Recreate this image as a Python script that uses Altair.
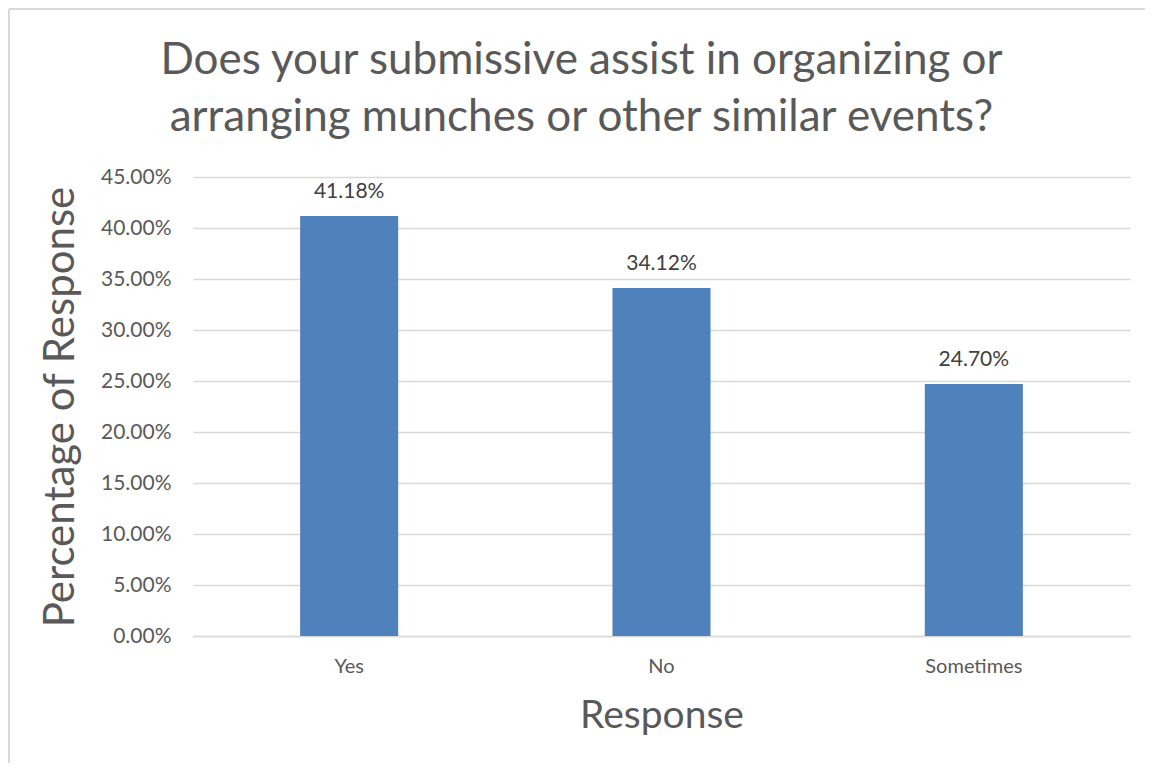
import altair as alt
import pandas as pd

responses = ["Yes", "No", "Sometimes"]
percentages = [0.4118, 0.3412, 0.2470]
y_ticks = [0.0, 0.05, 0.10, 0.15, 0.20, 0.25, 0.30, 0.35, 0.40, 0.45]

df = pd.DataFrame({"Response": responses, "Pct": percentages})

FONT = "Lato"
GRAY = "#595959"

x_enc = alt.X(
    "Response:N",
    sort=responses,
    scale=alt.Scale(paddingInner=0.686, paddingOuter=0.343),
    axis=alt.Axis(
        title="Response",
        labelAngle=0,
        labelFontSize=20,
        labelColor=GRAY,
        labelPadding=20,
        titleFontSize=39,
        titleColor=GRAY,
        titleFontWeight="normal",
        titlePadding=20,
        ticks=False,
        domainColor="#d9d9d9",
        domainWidth=1.5,
        grid=False,
    ),
)
y_enc = alt.Y(
    "Pct:Q",
    scale=alt.Scale(domain=[0, 0.45], nice=False),
    axis=alt.Axis(
        title="Percentage of Response",
        values=y_ticks,
        format=".2%",
        labelFontSize=21,
        labelColor=GRAY,
        labelPadding=22,
        titleFontSize=42,
        titleColor=GRAY,
        titleFontWeight="normal",
        titlePadding=18,
        ticks=False,
        domain=False,
        gridColor="#d9d9d9",
        gridWidth=1.5,
    ),
)

bars = alt.Chart(df).mark_bar(color="#4f81bd").encode(x=x_enc, y=y_enc)
labels = alt.Chart(df).mark_text(
    fontSize=21, color="#404040", baseline="alphabetic", dy=-18, font=FONT
).encode(
    x=alt.X("Response:N", sort=responses),
    y="Pct:Q",
    text=alt.Text("Pct:Q", format=".2%"),
)

border_df = pd.DataFrame({"k": [0]})
border_left = alt.Chart(border_df).mark_rule(color="#d9d9d9", strokeWidth=2).encode(
    x=alt.value(-184), y=alt.value(-168), y2=alt.value(600)
)
border_top = alt.Chart(border_df).mark_rule(color="#d9d9d9", strokeWidth=2).encode(
    x=alt.value(-184), x2=alt.value(960), y=alt.value(-168)
)

chart = (
    alt.layer(bars, labels, border_left, border_top)
    .properties(
        width=937,
        height=459,
        padding={"left": 185, "top": 169, "right": 15, "bottom": 127},
        autosize=alt.AutoSizeParams(type="none"),
        title=alt.TitleParams(
            text=["Does your submissive assist in organizing or", "arranging munches or other similar events?"],
            fontSize=44,
            font=FONT,
            fontWeight="normal",
            color=GRAY,
            anchor="middle",
            lineHeight=57,
            offset=-132,
            dx=-80,
        ),
    )
    .configure(font=FONT)
    .configure_view(stroke=None)
)

chart.save("out.html", embed_options={"renderer": "svg", "actions": False})
